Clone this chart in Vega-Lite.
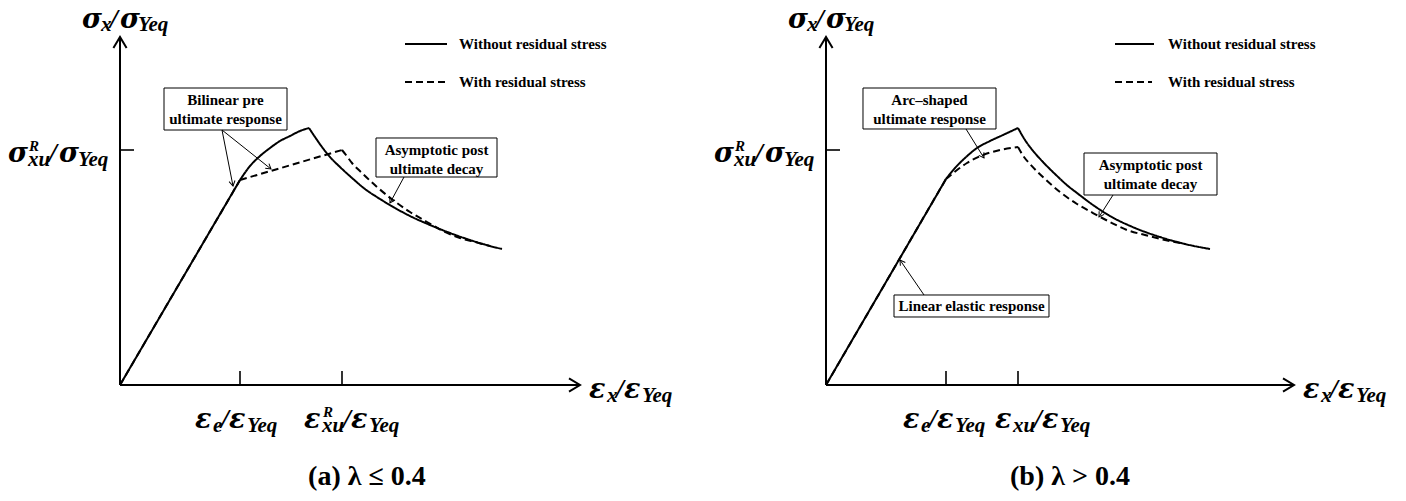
{
  "$schema": "https://vega.github.io/schema/vega-lite/v6.json",
  "usermeta": {"embedOptions": {"actions": false}},
  "autosize": {"type": "pad"},
  "padding": 0,
  "spacing": 0,
  "bounds": "flush",
  "background": "white",
  "config": {"view": {"stroke": null}},
  "datasets": {
    "curves": [
      {"panel": "a", "series": "Without residual stress", "seg": "a-s-rise", "i": 0, "x": 0, "y": 0},
      {"panel": "a", "series": "Without residual stress", "seg": "a-s-rise", "i": 1, "x": 1.0, "y": 0.8723},
      {"panel": "a", "series": "Without residual stress", "seg": "a-s-arc", "i": 0, "x": 1.0, "y": 0.8723},
      {"panel": "a", "series": "Without residual stress", "seg": "a-s-arc", "i": 1, "x": 1.0833, "y": 0.9319},
      {"panel": "a", "series": "Without residual stress", "seg": "a-s-arc", "i": 2, "x": 1.1667, "y": 0.9745},
      {"panel": "a", "series": "Without residual stress", "seg": "a-s-arc", "i": 3, "x": 1.25, "y": 1.0085},
      {"panel": "a", "series": "Without residual stress", "seg": "a-s-arc", "i": 4, "x": 1.3333, "y": 1.0383},
      {"panel": "a", "series": "Without residual stress", "seg": "a-s-arc", "i": 5, "x": 1.4167, "y": 1.0596},
      {"panel": "a", "series": "Without residual stress", "seg": "a-s-arc", "i": 6, "x": 1.5, "y": 1.0809},
      {"panel": "a", "series": "Without residual stress", "seg": "a-s-arc", "i": 7, "x": 1.575, "y": 1.0936},
      {"panel": "a", "series": "Without residual stress", "seg": "a-s-decay", "i": 0, "x": 1.575, "y": 1.0936},
      {"panel": "a", "series": "Without residual stress", "seg": "a-s-decay", "i": 1, "x": 1.625, "y": 1.0553},
      {"panel": "a", "series": "Without residual stress", "seg": "a-s-decay", "i": 2, "x": 1.6833, "y": 1.0128},
      {"panel": "a", "series": "Without residual stress", "seg": "a-s-decay", "i": 3, "x": 1.75, "y": 0.9702},
      {"panel": "a", "series": "Without residual stress", "seg": "a-s-decay", "i": 4, "x": 1.8333, "y": 0.9277},
      {"panel": "a", "series": "Without residual stress", "seg": "a-s-decay", "i": 5, "x": 1.9333, "y": 0.8809},
      {"panel": "a", "series": "Without residual stress", "seg": "a-s-decay", "i": 6, "x": 2.0417, "y": 0.834},
      {"panel": "a", "series": "Without residual stress", "seg": "a-s-decay", "i": 7, "x": 2.1667, "y": 0.7915},
      {"panel": "a", "series": "Without residual stress", "seg": "a-s-decay", "i": 8, "x": 2.2917, "y": 0.7532},
      {"panel": "a", "series": "Without residual stress", "seg": "a-s-decay", "i": 9, "x": 2.4167, "y": 0.7191},
      {"panel": "a", "series": "Without residual stress", "seg": "a-s-decay", "i": 10, "x": 2.5833, "y": 0.6809},
      {"panel": "a", "series": "Without residual stress", "seg": "a-s-decay", "i": 11, "x": 2.75, "y": 0.6468},
      {"panel": "a", "series": "Without residual stress", "seg": "a-s-decay", "i": 12, "x": 2.9167, "y": 0.617},
      {"panel": "a", "series": "Without residual stress", "seg": "a-s-decay", "i": 13, "x": 3.0833, "y": 0.5915},
      {"panel": "a", "series": "Without residual stress", "seg": "a-s-decay", "i": 14, "x": 3.1833, "y": 0.5787},
      {"panel": "a", "series": "With residual stress", "seg": "a-d-rise", "i": 0, "x": 0, "y": 0},
      {"panel": "a", "series": "With residual stress", "seg": "a-d-rise", "i": 1, "x": 1.0, "y": 0.8723},
      {"panel": "a", "series": "With residual stress", "seg": "a-d-plateau", "i": 0, "x": 1.0, "y": 0.8723},
      {"panel": "a", "series": "With residual stress", "seg": "a-d-plateau", "i": 1, "x": 1.85, "y": 1.0},
      {"panel": "a", "series": "With residual stress", "seg": "a-d-decay", "i": 0, "x": 1.85, "y": 1.0},
      {"panel": "a", "series": "With residual stress", "seg": "a-d-decay", "i": 1, "x": 1.8833, "y": 0.9787},
      {"panel": "a", "series": "With residual stress", "seg": "a-d-decay", "i": 2, "x": 1.9333, "y": 0.9447},
      {"panel": "a", "series": "With residual stress", "seg": "a-d-decay", "i": 3, "x": 2.0167, "y": 0.9021},
      {"panel": "a", "series": "With residual stress", "seg": "a-d-decay", "i": 4, "x": 2.1417, "y": 0.8426},
      {"panel": "a", "series": "With residual stress", "seg": "a-d-decay", "i": 5, "x": 2.275, "y": 0.7872},
      {"panel": "a", "series": "With residual stress", "seg": "a-d-decay", "i": 6, "x": 2.4167, "y": 0.7362},
      {"panel": "a", "series": "With residual stress", "seg": "a-d-decay", "i": 7, "x": 2.5583, "y": 0.6936},
      {"panel": "a", "series": "With residual stress", "seg": "a-d-decay", "i": 8, "x": 2.6917, "y": 0.6553},
      {"panel": "a", "series": "With residual stress", "seg": "a-d-decay", "i": 9, "x": 2.8333, "y": 0.6255},
      {"panel": "a", "series": "With residual stress", "seg": "a-d-decay", "i": 10, "x": 2.9583, "y": 0.6085},
      {"panel": "a", "series": "With residual stress", "seg": "a-d-decay", "i": 11, "x": 3.0833, "y": 0.5915},
      {"panel": "b", "series": "Without residual stress", "seg": "b-s-rise", "i": 0, "x": 0, "y": 0},
      {"panel": "b", "series": "Without residual stress", "seg": "b-s-rise", "i": 1, "x": 1.0, "y": 0.8766},
      {"panel": "b", "series": "Without residual stress", "seg": "b-s-arc", "i": 0, "x": 1.0, "y": 0.8766},
      {"panel": "b", "series": "Without residual stress", "seg": "b-s-arc", "i": 1, "x": 1.075, "y": 0.9234},
      {"panel": "b", "series": "Without residual stress", "seg": "b-s-arc", "i": 2, "x": 1.1583, "y": 0.966},
      {"panel": "b", "series": "Without residual stress", "seg": "b-s-arc", "i": 3, "x": 1.2583, "y": 1.0085},
      {"panel": "b", "series": "Without residual stress", "seg": "b-s-arc", "i": 4, "x": 1.3667, "y": 1.0383},
      {"panel": "b", "series": "Without residual stress", "seg": "b-s-arc", "i": 5, "x": 1.475, "y": 1.0638},
      {"panel": "b", "series": "Without residual stress", "seg": "b-s-arc", "i": 6, "x": 1.6, "y": 1.0936},
      {"panel": "b", "series": "Without residual stress", "seg": "b-s-decay", "i": 0, "x": 1.6, "y": 1.0936},
      {"panel": "b", "series": "Without residual stress", "seg": "b-s-decay", "i": 1, "x": 1.6583, "y": 1.0426},
      {"panel": "b", "series": "Without residual stress", "seg": "b-s-decay", "i": 2, "x": 1.7333, "y": 0.9915},
      {"panel": "b", "series": "Without residual stress", "seg": "b-s-decay", "i": 3, "x": 1.8083, "y": 0.9489},
      {"panel": "b", "series": "Without residual stress", "seg": "b-s-decay", "i": 4, "x": 1.9083, "y": 0.8979},
      {"panel": "b", "series": "Without residual stress", "seg": "b-s-decay", "i": 5, "x": 2.0167, "y": 0.8468},
      {"panel": "b", "series": "Without residual stress", "seg": "b-s-decay", "i": 6, "x": 2.0917, "y": 0.817},
      {"panel": "b", "series": "Without residual stress", "seg": "b-s-decay", "i": 7, "x": 2.225, "y": 0.766},
      {"panel": "b", "series": "Without residual stress", "seg": "b-s-decay", "i": 8, "x": 2.3667, "y": 0.7191},
      {"panel": "b", "series": "Without residual stress", "seg": "b-s-decay", "i": 9, "x": 2.575, "y": 0.6681},
      {"panel": "b", "series": "Without residual stress", "seg": "b-s-decay", "i": 10, "x": 2.7833, "y": 0.6298},
      {"panel": "b", "series": "Without residual stress", "seg": "b-s-decay", "i": 11, "x": 2.9917, "y": 0.6},
      {"panel": "b", "series": "Without residual stress", "seg": "b-s-decay", "i": 12, "x": 3.2, "y": 0.5787},
      {"panel": "b", "series": "With residual stress", "seg": "b-d-rise", "i": 0, "x": 0, "y": 0},
      {"panel": "b", "series": "With residual stress", "seg": "b-d-rise", "i": 1, "x": 1.0, "y": 0.8766},
      {"panel": "b", "series": "With residual stress", "seg": "b-d-arc", "i": 0, "x": 1.0, "y": 0.8766},
      {"panel": "b", "series": "With residual stress", "seg": "b-d-arc", "i": 1, "x": 1.0917, "y": 0.9149},
      {"panel": "b", "series": "With residual stress", "seg": "b-d-arc", "i": 2, "x": 1.175, "y": 0.9447},
      {"panel": "b", "series": "With residual stress", "seg": "b-d-arc", "i": 3, "x": 1.3083, "y": 0.9787},
      {"panel": "b", "series": "With residual stress", "seg": "b-d-arc", "i": 4, "x": 1.45, "y": 1.0},
      {"panel": "b", "series": "With residual stress", "seg": "b-d-arc", "i": 5, "x": 1.6, "y": 1.0128},
      {"panel": "b", "series": "With residual stress", "seg": "b-d-decay", "i": 0, "x": 1.6, "y": 1.0128},
      {"panel": "b", "series": "With residual stress", "seg": "b-d-decay", "i": 1, "x": 1.65, "y": 0.9702},
      {"panel": "b", "series": "With residual stress", "seg": "b-d-decay", "i": 2, "x": 1.7, "y": 0.9404},
      {"panel": "b", "series": "With residual stress", "seg": "b-d-decay", "i": 3, "x": 1.825, "y": 0.8766},
      {"panel": "b", "series": "With residual stress", "seg": "b-d-decay", "i": 4, "x": 1.95, "y": 0.8213},
      {"panel": "b", "series": "With residual stress", "seg": "b-d-decay", "i": 5, "x": 2.0917, "y": 0.7702},
      {"panel": "b", "series": "With residual stress", "seg": "b-d-decay", "i": 6, "x": 2.225, "y": 0.7319},
      {"panel": "b", "series": "With residual stress", "seg": "b-d-decay", "i": 7, "x": 2.3667, "y": 0.6936},
      {"panel": "b", "series": "With residual stress", "seg": "b-d-decay", "i": 8, "x": 2.5083, "y": 0.6596},
      {"panel": "b", "series": "With residual stress", "seg": "b-d-decay", "i": 9, "x": 2.6583, "y": 0.6383},
      {"panel": "b", "series": "With residual stress", "seg": "b-d-decay", "i": 10, "x": 2.825, "y": 0.617},
      {"panel": "b", "series": "With residual stress", "seg": "b-d-decay", "i": 11, "x": 2.9917, "y": 0.6}
    ],
    "strokes": [
      {"panel": "a", "kind": "axis", "x": 0, "y": 0, "x2": 0, "y2": 1.4809},
      {"panel": "a", "kind": "axis", "x": 0, "y": 0, "x2": 3.8333, "y2": 0},
      {"panel": "a", "kind": "tick", "x": 1.0, "y": 0, "x2": 1.0, "y2": 0.0596},
      {"panel": "a", "kind": "tick", "x": 1.85, "y": 0, "x2": 1.85, "y2": 0.0596},
      {"panel": "a", "kind": "tick", "x": 0, "y": 1.0, "x2": 0.1167, "y2": 1.0},
      {"panel": "a", "kind": "leader", "x": 0.85, "y": 1.0851, "x2": 0.9417, "y2": 0.8468},
      {"panel": "a", "kind": "leader", "x": 0.85, "y": 1.0851, "x2": 1.2583, "y2": 0.9191},
      {"panel": "a", "kind": "leader", "x": 2.3667, "y": 0.8851, "x2": 2.25, "y2": 0.7745},
      {"panel": "b", "kind": "axis", "x": 0, "y": 0, "x2": 0, "y2": 1.4809},
      {"panel": "b", "kind": "axis", "x": 0, "y": 0, "x2": 3.9, "y2": 0},
      {"panel": "b", "kind": "tick", "x": 1.0, "y": 0, "x2": 1.0, "y2": 0.0596},
      {"panel": "b", "kind": "tick", "x": 1.6, "y": 0, "x2": 1.6, "y2": 0.0596},
      {"panel": "b", "kind": "tick", "x": 0, "y": 1.0, "x2": 0.1167, "y2": 1.0},
      {"panel": "b", "kind": "leader", "x": 1.1667, "y": 1.0894, "x2": 1.3167, "y2": 0.966},
      {"panel": "b", "kind": "leader", "x": 2.3917, "y": 0.8085, "x2": 2.275, "y2": 0.7149},
      {"panel": "b", "kind": "leader", "x": 0.8167, "y": 0.383, "x2": 0.6167, "y2": 0.5319}
    ],
    "heads": [
      {"panel": "a", "kind": "axis", "x": 0, "y": 1.4809, "heading": 270},
      {"panel": "a", "kind": "axis", "x": 3.8333, "y": 0, "heading": 0},
      {"panel": "a", "kind": "leader", "x": 0.9417, "y": 0.8468, "heading": 78.9},
      {"panel": "a", "kind": "leader", "x": 1.2583, "y": 0.9191, "heading": 38.5},
      {"panel": "a", "kind": "leader", "x": 2.25, "y": 0.7745, "heading": 118.3},
      {"panel": "b", "kind": "axis", "x": 0, "y": 1.4809, "heading": 270},
      {"panel": "b", "kind": "axis", "x": 3.9, "y": 0, "heading": 0},
      {"panel": "b", "kind": "leader", "x": 1.3167, "y": 0.966, "heading": 58.2},
      {"panel": "b", "kind": "leader", "x": 2.275, "y": 0.7149, "heading": 122.5},
      {"panel": "b", "kind": "leader", "x": 0.6167, "y": 0.5319, "heading": 235.6}
    ],
    "boxes": [
      {"panel": "a", "x": 0.3667, "x2": 1.3917, "y": 1.2638, "y2": 1.0851},
      {"panel": "a", "x": 2.1333, "x2": 3.1417, "y": 1.0511, "y2": 0.8851},
      {"panel": "b", "x": 0.3083, "x2": 1.4167, "y": 1.2638, "y2": 1.0894},
      {"panel": "b", "x": 2.15, "x2": 3.2583, "y": 0.9872, "y2": 0.8085},
      {"panel": "b", "x": 0.5667, "x2": 1.8583, "y": 0.383, "y2": 0.2894}
    ],
    "notes": [
      {"panel": "a", "x": 0.8792, "y": 1.2128, "lines": ["Bilinear pre", "ultimate response"]},
      {"panel": "a", "x": 2.6375, "y": 1.0, "lines": ["Asymptotic post", "ultimate decay"]},
      {"panel": "b", "x": 0.8625, "y": 1.2128, "lines": ["Arc–shaped", "ultimate response"]},
      {"panel": "b", "x": 2.7042, "y": 0.9362, "lines": ["Asymptotic post", "ultimate decay"]},
      {"panel": "b", "x": 1.2125, "y": 0.3362, "lines": ["Linear elastic response"]}
    ],
    "legendKeys": [
      {"panel": "a", "series": "Without residual stress", "x": 2.375, "x2": 2.725, "y": 1.4511},
      {"panel": "a", "series": "With residual stress", "x": 2.375, "x2": 2.7083, "y": 1.2894},
      {"panel": "b", "series": "Without residual stress", "x": 2.4083, "x2": 2.7333, "y": 1.4511},
      {"panel": "b", "series": "With residual stress", "x": 2.4083, "x2": 2.7167, "y": 1.2894}
    ],
    "legendLabels": [
      {"panel": "a", "series": "Without residual stress", "x": 2.825, "y": 1.4511},
      {"panel": "a", "series": "With residual stress", "x": 2.825, "y": 1.2894},
      {"panel": "b", "series": "Without residual stress", "x": 2.85, "y": 1.4511},
      {"panel": "b", "series": "With residual stress", "x": 2.85, "y": 1.2894}
    ],
    "math": [
      {"panel": "a", "kind": "greek", "t": "σ", "x": -0.3167, "y": 1.5191},
      {"panel": "a", "kind": "sub", "t": "x", "x": -0.1583, "y": 1.5064},
      {"panel": "a", "kind": "slash", "t": "/", "x": -0.0833, "y": 1.5191},
      {"panel": "a", "kind": "greek", "t": "σ", "x": 0.0, "y": 1.5191},
      {"panel": "a", "kind": "sub", "t": "Yeq", "x": 0.15, "y": 1.5064},
      {"panel": "a", "kind": "greek", "t": "σ", "x": -0.9333, "y": 0.9489},
      {"panel": "a", "kind": "sup", "t": "R", "x": -0.7583, "y": 0.9957},
      {"panel": "a", "kind": "sub", "t": "xu", "x": -0.7667, "y": 0.9319},
      {"panel": "a", "kind": "slash", "t": "/", "x": -0.5917, "y": 0.9489},
      {"panel": "a", "kind": "greek", "t": "σ", "x": -0.5083, "y": 0.9489},
      {"panel": "a", "kind": "sub", "t": "Yeq", "x": -0.35, "y": 0.9319},
      {"panel": "a", "kind": "greek", "t": "ε", "x": 3.9083, "y": -0.0553},
      {"panel": "a", "kind": "sub", "t": "x", "x": 4.0583, "y": -0.0723},
      {"panel": "a", "kind": "slash", "t": "/", "x": 4.1333, "y": -0.0553},
      {"panel": "a", "kind": "greek", "t": "ε", "x": 4.2, "y": -0.0553},
      {"panel": "a", "kind": "sub", "t": "Yeq", "x": 4.35, "y": -0.0723},
      {"panel": "a", "kind": "greek", "t": "ε", "x": 0.625, "y": -0.183},
      {"panel": "a", "kind": "sub", "t": "e", "x": 0.775, "y": -0.2},
      {"panel": "a", "kind": "slash", "t": "/", "x": 0.8417, "y": -0.183},
      {"panel": "a", "kind": "greek", "t": "ε", "x": 0.9083, "y": -0.183},
      {"panel": "a", "kind": "sub", "t": "Yeq", "x": 1.0583, "y": -0.2},
      {"panel": "a", "kind": "greek", "t": "ε", "x": 1.5333, "y": -0.183},
      {"panel": "a", "kind": "sup", "t": "R", "x": 1.6917, "y": -0.1362},
      {"panel": "a", "kind": "sub", "t": "xu", "x": 1.6833, "y": -0.2},
      {"panel": "a", "kind": "slash", "t": "/", "x": 1.8583, "y": -0.183},
      {"panel": "a", "kind": "greek", "t": "ε", "x": 1.925, "y": -0.183},
      {"panel": "a", "kind": "sub", "t": "Yeq", "x": 2.075, "y": -0.2},
      {"panel": "b", "kind": "greek", "t": "σ", "x": -0.3167, "y": 1.5191},
      {"panel": "b", "kind": "sub", "t": "x", "x": -0.1583, "y": 1.5064},
      {"panel": "b", "kind": "slash", "t": "/", "x": -0.0833, "y": 1.5191},
      {"panel": "b", "kind": "greek", "t": "σ", "x": 0.0, "y": 1.5191},
      {"panel": "b", "kind": "sub", "t": "Yeq", "x": 0.15, "y": 1.5064},
      {"panel": "b", "kind": "greek", "t": "σ", "x": -0.9333, "y": 0.9489},
      {"panel": "b", "kind": "sup", "t": "R", "x": -0.7583, "y": 0.9957},
      {"panel": "b", "kind": "sub", "t": "xu", "x": -0.7667, "y": 0.9319},
      {"panel": "b", "kind": "slash", "t": "/", "x": -0.5917, "y": 0.9489},
      {"panel": "b", "kind": "greek", "t": "σ", "x": -0.5083, "y": 0.9489},
      {"panel": "b", "kind": "sub", "t": "Yeq", "x": -0.35, "y": 0.9319},
      {"panel": "b", "kind": "greek", "t": "ε", "x": 3.975, "y": -0.0553},
      {"panel": "b", "kind": "sub", "t": "x", "x": 4.125, "y": -0.0723},
      {"panel": "b", "kind": "slash", "t": "/", "x": 4.2, "y": -0.0553},
      {"panel": "b", "kind": "greek", "t": "ε", "x": 4.2667, "y": -0.0553},
      {"panel": "b", "kind": "sub", "t": "Yeq", "x": 4.4167, "y": -0.0723},
      {"panel": "b", "kind": "greek", "t": "ε", "x": 0.6417, "y": -0.183},
      {"panel": "b", "kind": "sub", "t": "e", "x": 0.7917, "y": -0.2},
      {"panel": "b", "kind": "slash", "t": "/", "x": 0.8583, "y": -0.183},
      {"panel": "b", "kind": "greek", "t": "ε", "x": 0.925, "y": -0.183},
      {"panel": "b", "kind": "sub", "t": "Yeq", "x": 1.075, "y": -0.2},
      {"panel": "b", "kind": "greek", "t": "ε", "x": 1.4083, "y": -0.183},
      {"panel": "b", "kind": "sub", "t": "xu", "x": 1.5583, "y": -0.2},
      {"panel": "b", "kind": "slash", "t": "/", "x": 1.7333, "y": -0.183},
      {"panel": "b", "kind": "greek", "t": "ε", "x": 1.8, "y": -0.183},
      {"panel": "b", "kind": "sub", "t": "Yeq", "x": 1.95, "y": -0.2}
    ],
    "captions": [
      {"panel": "a", "t": "(a) λ ≤ 0.4", "x": 2.0583, "y": -0.4255},
      {"panel": "b", "t": "(b) λ > 0.4", "x": 2.0333, "y": -0.4255}
    ]
  },
  "hconcat": [
    {
      "width": 703,
      "height": 501,
      "encoding": {
        "x": {"field": "x", "type": "quantitative", "axis": null, "scale": {"domain": [-1, 4.858333], "nice": false, "zero": false}},
        "y": {"field": "y", "type": "quantitative", "axis": null, "scale": {"domain": [-0.493617, 1.638298], "nice": false, "zero": false}}
      },
      "layer": [
        {
          "data": {"name": "curves"},
          "transform": [{"filter": "datum.panel === 'a'"}],
          "mark": {"type": "line", "interpolate": "monotone", "strokeWidth": 2, "color": "black"},
          "encoding": {
            "detail": {"field": "seg", "type": "nominal"},
            "order": {"field": "i", "type": "quantitative"},
            "strokeDash": {"field": "series", "type": "nominal", "legend": null, "scale": {"domain": ["Without residual stress", "With residual stress"], "range": [[1, 0], [7, 4]]}}
          }
        },
        {
          "data": {"name": "strokes"},
          "transform": [{"filter": "datum.panel === 'a' && datum.kind === 'axis'"}],
          "mark": {"type": "rule", "strokeWidth": 2, "color": "black"},
          "encoding": {"x2": {"field": "x2"}, "y2": {"field": "y2"}}
        },
        {
          "data": {"name": "strokes"},
          "transform": [{"filter": "datum.panel === 'a' && datum.kind === 'tick'"}],
          "mark": {"type": "rule", "strokeWidth": 1.6, "color": "black"},
          "encoding": {"x2": {"field": "x2"}, "y2": {"field": "y2"}}
        },
        {
          "data": {"name": "legendKeys"},
          "transform": [{"filter": "datum.panel === 'a'"}],
          "mark": {"type": "rule", "strokeWidth": 2, "color": "black"},
          "encoding": {
            "x2": {"field": "x2"},
            "strokeDash": {"field": "series", "type": "nominal", "legend": null, "scale": {"domain": ["Without residual stress", "With residual stress"], "range": [[1, 0], [7, 4]]}}
          }
        },
        {
          "data": {"name": "boxes"},
          "transform": [{"filter": "datum.panel === 'a'"}],
          "mark": {"type": "rect", "fill": "white", "stroke": "black", "strokeWidth": 1},
          "encoding": {"x2": {"field": "x2"}, "y2": {"field": "y2"}}
        },
        {
          "data": {"name": "strokes"},
          "transform": [{"filter": "datum.panel === 'a' && datum.kind === 'leader'"}],
          "mark": {"type": "rule", "strokeWidth": 1, "color": "black"},
          "encoding": {"x2": {"field": "x2"}, "y2": {"field": "y2"}}
        },
        {
          "data": {"name": "heads"},
          "transform": [{"filter": "datum.panel === 'a' && datum.kind === 'axis'"}],
          "mark": {"type": "point", "shape": "M-1,-0.6L0,0L-1,0.6", "size": 484, "filled": false, "stroke": "black", "strokeWidth": 2, "opacity": 1},
          "encoding": {"angle": {"field": "heading", "type": "quantitative", "scale": null}}
        },
        {
          "data": {"name": "heads"},
          "transform": [{"filter": "datum.panel === 'a' && datum.kind === 'leader'"}],
          "mark": {"type": "point", "shape": "M-1,-0.6L0,0L-1,0.6", "size": 100, "filled": false, "stroke": "black", "strokeWidth": 1, "opacity": 1},
          "encoding": {"angle": {"field": "heading", "type": "quantitative", "scale": null}}
        },
        {
          "data": {"name": "notes"},
          "transform": [{"filter": "datum.panel === 'a'"}],
          "mark": {"type": "text", "font": "Liberation Serif", "fontWeight": "bold", "fontSize": 15, "lineHeight": 19, "align": "center", "baseline": "middle", "color": "black"},
          "encoding": {"text": {"field": "lines"}}
        },
        {
          "data": {"name": "legendLabels"},
          "transform": [{"filter": "datum.panel === 'a'"}],
          "mark": {"type": "text", "font": "Liberation Serif", "fontWeight": "bold", "fontSize": 15, "align": "left", "baseline": "middle", "color": "black"},
          "encoding": {"text": {"field": "series"}}
        },
        {
          "data": {"name": "math"},
          "transform": [{"filter": "datum.panel === 'a' && datum.kind === 'greek'"}],
          "mark": {"type": "text", "font": "DejaVu Serif", "fontWeight": "bold", "fontStyle": "italic", "fontSize": 27, "align": "left", "baseline": "alphabetic", "color": "black"},
          "encoding": {"text": {"field": "t"}}
        },
        {
          "data": {"name": "math"},
          "transform": [{"filter": "datum.panel === 'a' && datum.kind === 'slash'"}],
          "mark": {"type": "text", "font": "Liberation Serif", "fontWeight": "bold", "fontStyle": "italic", "fontSize": 28, "align": "left", "baseline": "alphabetic", "color": "black"},
          "encoding": {"text": {"field": "t"}}
        },
        {
          "data": {"name": "math"},
          "transform": [{"filter": "datum.panel === 'a' && datum.kind === 'sub'"}],
          "mark": {"type": "text", "font": "Liberation Serif", "fontWeight": "bold", "fontStyle": "italic", "fontSize": 21, "align": "left", "baseline": "alphabetic", "color": "black"},
          "encoding": {"text": {"field": "t"}}
        },
        {
          "data": {"name": "math"},
          "transform": [{"filter": "datum.panel === 'a' && datum.kind === 'sup'"}],
          "mark": {"type": "text", "font": "Liberation Serif", "fontWeight": "bold", "fontStyle": "italic", "fontSize": 15, "align": "left", "baseline": "alphabetic", "color": "black"},
          "encoding": {"text": {"field": "t"}}
        },
        {
          "data": {"name": "captions"},
          "transform": [{"filter": "datum.panel === 'a'"}],
          "mark": {"type": "text", "font": "Liberation Serif", "fontWeight": "bold", "fontSize": 28, "align": "center", "baseline": "alphabetic", "color": "black"},
          "encoding": {"text": {"field": "t"}}
        }
      ]
    },
    {
      "width": 703,
      "height": 501,
      "encoding": {
        "x": {"field": "x", "type": "quantitative", "axis": null, "scale": {"domain": [-1.025, 4.833333], "nice": false, "zero": false}},
        "y": {"field": "y", "type": "quantitative", "axis": null, "scale": {"domain": [-0.493617, 1.638298], "nice": false, "zero": false}}
      },
      "layer": [
        {
          "data": {"name": "curves"},
          "transform": [{"filter": "datum.panel === 'b'"}],
          "mark": {"type": "line", "interpolate": "monotone", "strokeWidth": 2, "color": "black"},
          "encoding": {
            "detail": {"field": "seg", "type": "nominal"},
            "order": {"field": "i", "type": "quantitative"},
            "strokeDash": {"field": "series", "type": "nominal", "legend": null, "scale": {"domain": ["Without residual stress", "With residual stress"], "range": [[1, 0], [7, 4]]}}
          }
        },
        {
          "data": {"name": "strokes"},
          "transform": [{"filter": "datum.panel === 'b' && datum.kind === 'axis'"}],
          "mark": {"type": "rule", "strokeWidth": 2, "color": "black"},
          "encoding": {"x2": {"field": "x2"}, "y2": {"field": "y2"}}
        },
        {
          "data": {"name": "strokes"},
          "transform": [{"filter": "datum.panel === 'b' && datum.kind === 'tick'"}],
          "mark": {"type": "rule", "strokeWidth": 1.6, "color": "black"},
          "encoding": {"x2": {"field": "x2"}, "y2": {"field": "y2"}}
        },
        {
          "data": {"name": "legendKeys"},
          "transform": [{"filter": "datum.panel === 'b'"}],
          "mark": {"type": "rule", "strokeWidth": 2, "color": "black"},
          "encoding": {
            "x2": {"field": "x2"},
            "strokeDash": {"field": "series", "type": "nominal", "legend": null, "scale": {"domain": ["Without residual stress", "With residual stress"], "range": [[1, 0], [7, 4]]}}
          }
        },
        {
          "data": {"name": "boxes"},
          "transform": [{"filter": "datum.panel === 'b'"}],
          "mark": {"type": "rect", "fill": "white", "stroke": "black", "strokeWidth": 1},
          "encoding": {"x2": {"field": "x2"}, "y2": {"field": "y2"}}
        },
        {
          "data": {"name": "strokes"},
          "transform": [{"filter": "datum.panel === 'b' && datum.kind === 'leader'"}],
          "mark": {"type": "rule", "strokeWidth": 1, "color": "black"},
          "encoding": {"x2": {"field": "x2"}, "y2": {"field": "y2"}}
        },
        {
          "data": {"name": "heads"},
          "transform": [{"filter": "datum.panel === 'b' && datum.kind === 'axis'"}],
          "mark": {"type": "point", "shape": "M-1,-0.6L0,0L-1,0.6", "size": 484, "filled": false, "stroke": "black", "strokeWidth": 2, "opacity": 1},
          "encoding": {"angle": {"field": "heading", "type": "quantitative", "scale": null}}
        },
        {
          "data": {"name": "heads"},
          "transform": [{"filter": "datum.panel === 'b' && datum.kind === 'leader'"}],
          "mark": {"type": "point", "shape": "M-1,-0.6L0,0L-1,0.6", "size": 100, "filled": false, "stroke": "black", "strokeWidth": 1, "opacity": 1},
          "encoding": {"angle": {"field": "heading", "type": "quantitative", "scale": null}}
        },
        {
          "data": {"name": "notes"},
          "transform": [{"filter": "datum.panel === 'b'"}],
          "mark": {"type": "text", "font": "Liberation Serif", "fontWeight": "bold", "fontSize": 15, "lineHeight": 19, "align": "center", "baseline": "middle", "color": "black"},
          "encoding": {"text": {"field": "lines"}}
        },
        {
          "data": {"name": "legendLabels"},
          "transform": [{"filter": "datum.panel === 'b'"}],
          "mark": {"type": "text", "font": "Liberation Serif", "fontWeight": "bold", "fontSize": 15, "align": "left", "baseline": "middle", "color": "black"},
          "encoding": {"text": {"field": "series"}}
        },
        {
          "data": {"name": "math"},
          "transform": [{"filter": "datum.panel === 'b' && datum.kind === 'greek'"}],
          "mark": {"type": "text", "font": "DejaVu Serif", "fontWeight": "bold", "fontStyle": "italic", "fontSize": 27, "align": "left", "baseline": "alphabetic", "color": "black"},
          "encoding": {"text": {"field": "t"}}
        },
        {
          "data": {"name": "math"},
          "transform": [{"filter": "datum.panel === 'b' && datum.kind === 'slash'"}],
          "mark": {"type": "text", "font": "Liberation Serif", "fontWeight": "bold", "fontStyle": "italic", "fontSize": 28, "align": "left", "baseline": "alphabetic", "color": "black"},
          "encoding": {"text": {"field": "t"}}
        },
        {
          "data": {"name": "math"},
          "transform": [{"filter": "datum.panel === 'b' && datum.kind === 'sub'"}],
          "mark": {"type": "text", "font": "Liberation Serif", "fontWeight": "bold", "fontStyle": "italic", "fontSize": 21, "align": "left", "baseline": "alphabetic", "color": "black"},
          "encoding": {"text": {"field": "t"}}
        },
        {
          "data": {"name": "math"},
          "transform": [{"filter": "datum.panel === 'b' && datum.kind === 'sup'"}],
          "mark": {"type": "text", "font": "Liberation Serif", "fontWeight": "bold", "fontStyle": "italic", "fontSize": 15, "align": "left", "baseline": "alphabetic", "color": "black"},
          "encoding": {"text": {"field": "t"}}
        },
        {
          "data": {"name": "captions"},
          "transform": [{"filter": "datum.panel === 'b'"}],
          "mark": {"type": "text", "font": "Liberation Serif", "fontWeight": "bold", "fontSize": 28, "align": "center", "baseline": "alphabetic", "color": "black"},
          "encoding": {"text": {"field": "t"}}
        }
      ]
    }
  ]
}
